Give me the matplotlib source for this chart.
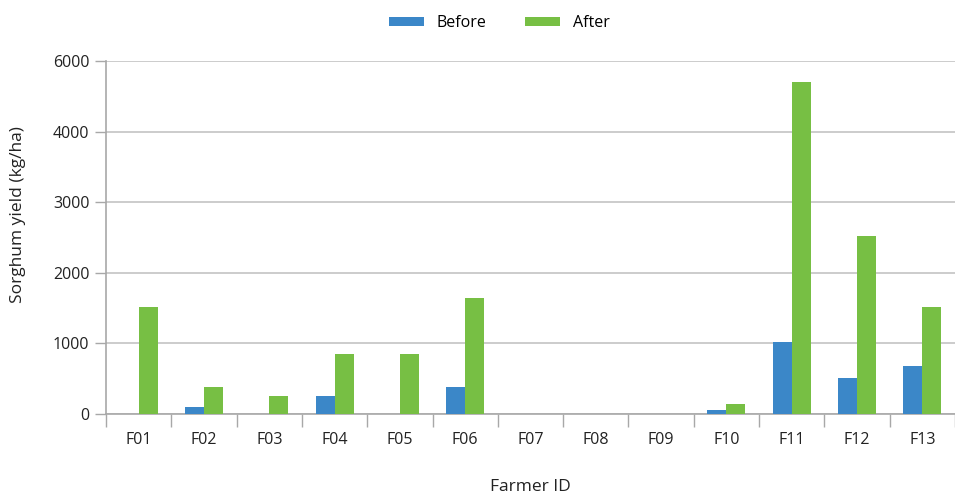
import matplotlib
matplotlib.use("Agg")
import matplotlib.pyplot as plt
import numpy as np

# ── Data ──────────────────────────────────────────────────────────────────
farmers = ["F01", "F02", "F03", "F04", "F05", "F06", "F07",
           "F08", "F09", "F10", "F11", "F12", "F13"]
before = [0, 100, 0, 255, 0, 380, 0, 0, 0, 55, 1020, 510, 680]
after  = [1515, 380, 250, 850, 850, 1640, 0, 0, 0, 140, 4700, 2520, 1515]

# y ticks as printed in the source chart (top tick is labelled 6000)
ytick_pos    = [0, 1000, 2000, 3000, 4000, 5000]
ytick_labels = ["0", "1000", "2000", "3000", "4000", "6000"]

BLUE  = "#3b87c8"
GREEN = "#77bf44"
GRID  = "#c3c3c3"
AXIS  = "#a8a8a8"
TEXT  = "#222222"

plt.rcParams["font.family"] = ["Open Sans", "DejaVu Sans"]

fig = plt.figure(figsize=(9.55, 4.94), dpi=100)
ax = fig.add_axes([106 / 955, 80 / 494, 849 / 955, 353 / 494])

x = np.arange(len(farmers))
w = 0.29
ax.bar(x - w / 2, before, width=w, color=BLUE, label="Before", zorder=3)
ax.bar(x + w / 2, after,  width=w, color=GREEN, label="After", zorder=3)

ax.set_xlim(-0.5, len(farmers) - 0.5)
ax.set_ylim(0, 5000)

ax.set_yticks(ytick_pos)
ax.set_yticklabels(ytick_labels)
ax.yaxis.grid(True, color=GRID, linewidth=1.2, zorder=0)
ax.tick_params(axis="y", length=8, width=1.0, color=AXIS,
               labelsize=11.5, labelcolor=TEXT, pad=4)

# category labels centered, tick marks at category boundaries
ax.set_xticks(x)
ax.set_xticklabels(farmers)
ax.tick_params(axis="x", which="major", length=0, labelsize=11.5,
               labelcolor=TEXT, pad=13)
ax.set_xticks(np.arange(len(farmers) + 1) - 0.5, minor=True)
ax.tick_params(axis="x", which="minor", length=9, width=1.0, color=AXIS)

for side in ("top", "right"):
    ax.spines[side].set_visible(False)
for side in ("left", "bottom"):
    ax.spines[side].set_color(AXIS)
    ax.spines[side].set_linewidth(1.2)

# axis titles placed in figure pixels to match the source layout
fig.text(530 / 955, 1 - 487 / 494, "Farmer ID", fontsize=12.5, color=TEXT,
         ha="center", va="center")
fig.text(18 / 955, 1 - 215 / 494, "Sorghum yield (kg/ha)", fontsize=12.5,
         color=TEXT, ha="center", va="center", rotation=90)

fig.legend(loc="center", bbox_to_anchor=(0.523, 0.953), ncol=2,
           frameon=False, fontsize=11.5, handlelength=2.2, handleheight=0.55,
           columnspacing=2.4, handletextpad=0.8)

fig.savefig("out.png", dpi=100)
